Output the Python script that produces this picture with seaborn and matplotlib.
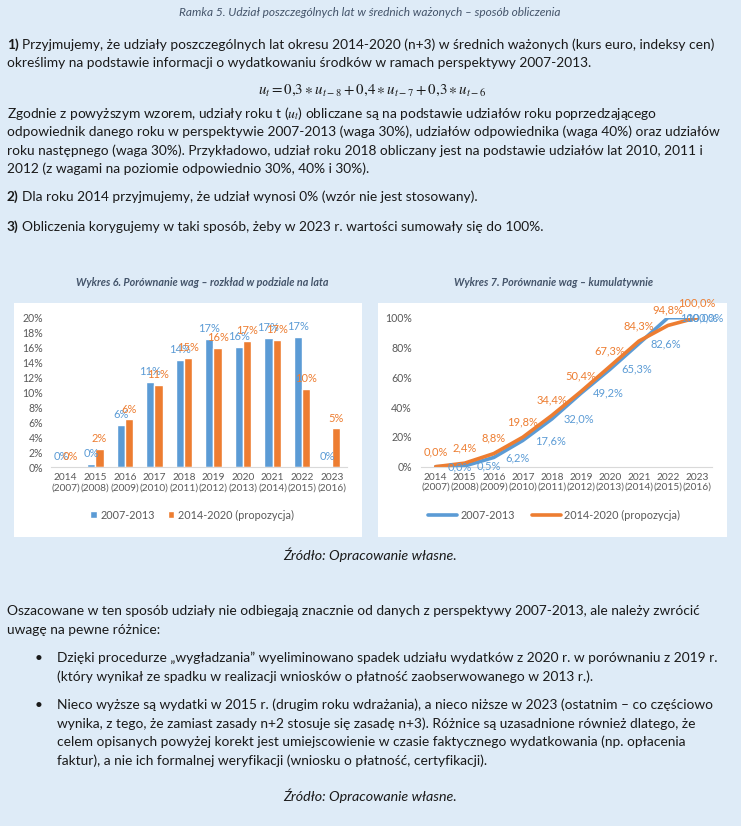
import numpy as np
import pandas as pd
import matplotlib
matplotlib.use("Agg")
import matplotlib.pyplot as plt
import seaborn as sns
from matplotlib.patches import Rectangle
from matplotlib.lines import Line2D

sns.set_style("white")
plt.rcParams['font.family'] = ['Lato', 'DejaVu Sans']
plt.rcParams['mathtext.fontset'] = 'stix'

# data
years = ["2014", "2015", "2016", "2017", "2018", "2019", "2020", "2021", "2022", "2023"]
years_old = ["2007", "2008", "2009", "2010", "2011", "2012", "2013", "2014", "2015", "2016"]
series = ["2007-2013", "2014-2020 (propozycja)"]
share_old = [0.0, 0.5, 5.7, 11.4, 14.4, 17.2, 16.1, 17.3, 17.4, 0.0]
share_new = [0.0, 2.4, 6.4, 11.0, 14.6, 16.0, 16.9, 17.0, 10.5, 5.2]

BG = "#DEEBF7"
BLUE = "#5B9BD5"
ORANGE = "#ED7D31"
GRAY = "#595959"
TXT = "#1A1A1A"
TITLE = "#44546A"

labels = [f"{a}\n({b})" for a, b in zip(years, years_old)]
cum_old = np.cumsum(share_old)
cum_new = np.cumsum(share_new)

df_bar = pd.DataFrame({
    "rok": labels * 2,
    "udzial": share_old + share_new,
    "seria": [series[0]] * len(labels) + [series[1]] * len(labels),
})
df_cum = pd.DataFrame({
    "rok": labels * 2,
    "udzial": list(cum_old) + list(cum_new),
    "seria": [series[0]] * len(labels) + [series[1]] * len(labels),
})

W, H = 741, 826
fig = plt.figure(figsize=(W / 100, H / 100), dpi=100)
fig.patch.set_facecolor(BG)
renderer = fig.canvas.get_renderer()


def put(x, y, s, **kw):
    kw.setdefault("va", "center")
    kw.setdefault("color", TXT)
    return fig.text(x / W, 1 - y / H, s, **kw)


def fit(s, target, **kw):
    t = fig.text(0, 0, s, fontsize=10, **kw)
    w = t.get_window_extent(renderer).width
    t.remove()
    return 10 * target / w


# texts above the charts
body_lines = [
    "Oszacowane w ten sposób udziały nie odbiegają znacznie od danych z perspektywy 2007-2013, ale należy zwrócić",
    "uwagę na pewne różnice:",
]
fs = fit(body_lines[0], 690)
fs_title = fit("Ramka 5. Udział poszczególnych lat w średnich ważonych – sposób obliczenia", 382, style="italic")
put(370, 12, "Ramka 5. Udział poszczególnych lat w średnich ważonych – sposób obliczenia",
    ha="center", style="italic", fontsize=fs_title, color=TITLE)


def numbered(y, num, s):
    t = put(7, y, num, fontsize=fs, weight="bold")
    w = t.get_window_extent(renderer).width
    put(7 + w + fs * 100 / 72 * 0.27, y, s, fontsize=fs)


numbered(45, "1)", "Przyjmujemy, że udziały poszczególnych lat okresu 2014-2020 (n+3) w średnich ważonych (kurs euro, indeksy cen)")
put(7, 63, "określimy na podstawie informacji o wydatkowaniu środków w ramach perspektywy 2007-2013.", fontsize=fs)

formula = r"$u_t = 0{,}3 \ast u_{t-8} + 0{,}4 \ast u_{t-7} + 0{,}3 \ast u_{t-6}$"
put(372, 90, formula, ha="center", fontsize=fit(formula, 229))

para = [
    "Zgodnie z powyższym wzorem, udziały roku t ($u_t$) obliczane są na podstawie udziałów roku poprzedzającego",
    "odpowiednik danego roku w perspektywie 2007-2013 (waga 30%), udziałów odpowiednika (waga 40%) oraz udziałów",
    "roku następnego (waga 30%). Przykładowo, udział roku 2018 obliczany jest na podstawie udziałów lat 2010, 2011 i",
    "2012 (z wagami na poziomie odpowiednio 30%, 40% i 30%).",
]
for i, s in enumerate(para):
    put(7, 113 + i * 18.7, s, fontsize=fs)

numbered(197, "2)", "Dla roku 2014 przyjmujemy, że udział wynosi 0% (wzór nie jest stosowany).")
numbered(227, "3)", "Obliczenia korygujemy w taki sposób, żeby w 2023 r. wartości sumowały się do 100%.")

# chart panels
for x0, x1 in [(14, 362), (378, 727)]:
    fig.add_artist(Rectangle((x0 / W, 1 - 537 / H), (x1 - x0) / W, (537 - 303) / H,
                             transform=fig.transFigure, facecolor="white", edgecolor="none", zorder=0))

t6 = "Wykres 6. Porównanie wag – rozkład w podziale na lata"
t7 = "Wykres 7. Porównanie wag – kumulatywnie"
fs_ct = fit(t6, 252, style="italic", weight="bold")
put(202, 282, t6, ha="center", style="italic", weight="bold", fontsize=fs_ct, color=TITLE)
put(554, 282, t7, ha="center", style="italic", weight="bold", fontsize=fs_ct, color=TITLE)


def style_axis(ax, pad_y):
    for side in ["left", "top", "right"]:
        ax.spines[side].set_visible(False)
    ax.spines["bottom"].set_color("#D9D9D9")
    ax.tick_params(axis="both", length=0, labelsize=7.6, colors=GRAY)
    ax.tick_params(axis="x", labelsize=7.3, pad=4.2)
    ax.tick_params(axis="y", pad=pad_y)
    ax.set_xlabel("")
    ax.set_ylabel("")
    ax.set_facecolor("none")
    ax.set_xlim(-0.5, len(labels) - 0.5)


# Wykres 6 - bars
ax1 = fig.add_axes([50.9 / W, 1 - 467.3 / H, 295.6 / W, 149.6 / H])
sns.barplot(data=df_bar, x="rok", y="udzial", hue="seria", palette=[BLUE, ORANGE],
            width=0.56, gap=0, saturation=1, ax=ax1)
ax1.set_ylim(0, 20)
ax1.set_yticks(range(0, 21, 2))
ax1.set_yticklabels([f"{v}%" for v in range(0, 21, 2)])
style_axis(ax1, 5.6)
for cont, vals, col in zip(ax1.containers, [share_old, share_new], [BLUE, ORANGE]):
    ax1.bar_label(cont, labels=[f"{v:.0f}%" for v in vals], padding=3.5, fontsize=8, color=col)
h, l = ax1.get_legend_handles_labels()
ax1.legend(h, l, loc="center", bbox_to_anchor=(192 / W, 1 - 515 / H), bbox_transform=fig.transFigure,
           ncol=2, frameon=False, fontsize=7.8, labelcolor=GRAY, handlelength=0.6, handleheight=0.6,
           handletextpad=0.3, columnspacing=1.2)

# Wykres 7 - cumulative
ax2 = fig.add_axes([421.2 / W, 1 - 466.7 / H, 290.3 / W, 149 / H])
sns.lineplot(data=df_cum, x="rok", y="udzial", hue="seria", palette=[BLUE, ORANGE],
             linewidth=2.6, sort=False, ax=ax2, legend=False)
ax2.set_ylim(0, 100)
ax2.set_yticks(range(0, 101, 20))
ax2.set_yticklabels([f"{v}%" for v in range(0, 101, 20)])
style_axis(ax2, 6.8)
last = len(cum_old) - 1
for i, v in enumerate(cum_old):
    # Excel pushes the last label back inside the chart area
    off, ha = ((19, "right") if i == last else (8.5, "left"))
    ax2.annotate(f"{v:.1f}%".replace(".", ","), (i, v), xytext=(off, 0), textcoords="offset points",
                 ha=ha, va="center", fontsize=8, color=BLUE, annotation_clip=False)
for i, v in enumerate(cum_new):
    ax2.annotate(f"{v:.1f}%".replace(".", ","), (i, v), xytext=(0, 11), textcoords="offset points",
                 ha="center", va="center", fontsize=8, color=ORANGE, annotation_clip=False)
handles = [Line2D([], [], color=c, lw=2.6) for c in [BLUE, ORANGE]]
ax2.legend(handles, series, loc="center", bbox_to_anchor=(554 / W, 1 - 515 / H), bbox_transform=fig.transFigure,
           ncol=2, frameon=False, fontsize=7.8, labelcolor=GRAY, handlelength=2.7,
           handletextpad=0.3, columnspacing=1.6)

# texts below the charts
fs_src = fit("Źródło: Opracowanie własne.", 175, style="italic")
put(370, 555, "Źródło: Opracowanie własne.", ha="center", style="italic", fontsize=fs_src)

put(7, 611, body_lines[0], fontsize=fs)
put(7, 630, body_lines[1], fontsize=fs)

bullets = [
    ["Dzięki procedurze „wygładzania” wyeliminowano spadek udziału wydatków z 2020 r. w porównaniu z 2019 r.",
     "(który wynikał ze spadku w realizacji wniosków o płatność zaobserwowanego w 2013 r.)."],
    ["Nieco wyższe są wydatki w 2015 r. (drugim roku wdrażania), a nieco niższe w 2023 (ostatnim – co częściowo",
     "wynika, z tego, że zamiast zasady n+2 stosuje się zasadę n+3). Różnice są uzasadnione również dlatego, że",
     "celem opisanych powyżej korekt jest umiejscowienie w czasie faktycznego wydatkowania (np. opłacenia",
     "faktur), a nie ich formalnej weryfikacji (wniosku o płatność, certyfikacji)."],
]
y0 = [658, 705]
for y, lines in zip(y0, bullets):
    put(35, y, "•", fontsize=fs)
    for j, s in enumerate(lines):
        put(57, y + j * 18.5, s, fontsize=fs)

put(370, 796, "Źródło: Opracowanie własne.", ha="center", style="italic", fontsize=fs_src)

fig.savefig("out.png", dpi=100, facecolor=BG)
